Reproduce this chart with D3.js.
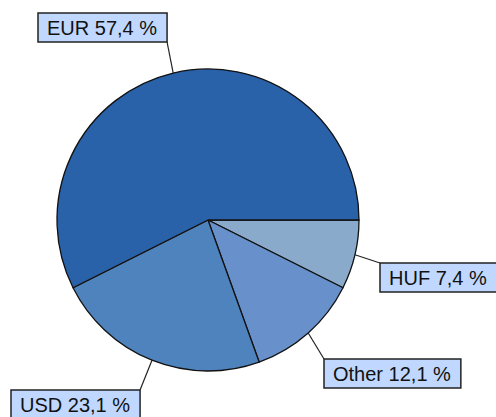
<!DOCTYPE html>
<html>
<head>
<meta charset="utf-8">
<script src="https://cdn.jsdelivr.net/npm/d3@7"></script>
<style>
  html, body { margin: 0; padding: 0; background: #fff; }
  svg { display: block; }
</style>
</head>
<body>
<script>
// ---- data (clockwise from 3 o'clock) ----
const categories = ["HUF", "Other", "USD", "EUR"];
const values = [7.4, 12.1, 23.1, 57.4];
const colors = ["#8AAACB", "#6890CB", "#4F83BD", "#2A62AA"];

// ---- layout ----
const W = 496, H = 417;
const cx = 208, cy = 220, R = 151;
// box top-left corners and which corner the leader connects to
const labelLayout = {
  EUR:   { x: 38,  y: 13,  corner: "br" },
  HUF:   { x: 380, y: 263, corner: "tl" },
  Other: { x: 324, y: 359, corner: "tl" },
  USD:   { x: 11,  y: 390, corner: "tr" }
};

const svg = d3.select("body").append("svg").attr("width", W).attr("height", H);

const pie = d3.pie().sort(null).value(d => d.v)
  .startAngle(Math.PI / 2).endAngle(Math.PI / 2 + 2 * Math.PI);
const data = categories.map((c, i) => ({ c, v: values[i], col: colors[i] }));
const arcs = pie(data);
const arc = d3.arc().innerRadius(0).outerRadius(R);

const g = svg.append("g").attr("transform", `translate(${cx},${cy})`);
g.selectAll("path").data(arcs).join("path")
  .attr("d", arc)
  .attr("fill", d => d.data.col)
  .attr("stroke", "#111")
  .attr("stroke-width", 1.3)
  .attr("stroke-linejoin", "round");

const fmt = v => d3.format(".1f")(v).replace(".", ",") + " %";

const labels = svg.append("g");
arcs.forEach(a => {
  const L = labelLayout[a.data.c];
  const mid = (a.startAngle + a.endAngle) / 2;
  const px = cx + R * Math.sin(mid), py = cy - R * Math.cos(mid);

  const lg = labels.append("g");
  const txt = lg.append("text")
    .attr("font-family", "Liberation Sans, Arial, sans-serif")
    .attr("font-size", 20)
    .attr("fill", "#111")
    .text(a.data.c + " " + fmt(a.data.v));
  const tw = txt.node().getComputedTextLength();
  const bw = tw + 19, bh = 29;
  txt.attr("x", L.x + 9).attr("y", L.y + bh / 2 + 7);
  lg.insert("rect", "text")
    .attr("x", L.x).attr("y", L.y).attr("width", bw).attr("height", bh)
    .attr("fill", "#C0D8FF").attr("stroke", "#222").attr("stroke-width", 1.5);

  let ex = L.x, ey = L.y;
  if (L.corner === "br") { ex = L.x + bw; ey = L.y + bh; }
  if (L.corner === "tr") { ex = L.x + bw; ey = L.y; }
  labels.insert("line", "g")
    .attr("x1", px).attr("y1", py).attr("x2", ex).attr("y2", ey)
    .attr("stroke", "#222").attr("stroke-width", 1.2);
});
</script>
</body>
</html>
